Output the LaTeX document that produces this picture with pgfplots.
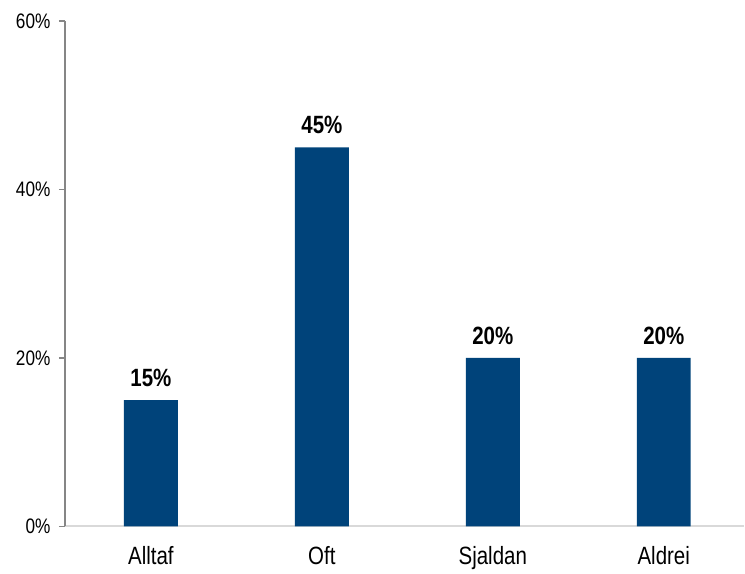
\documentclass[border=0pt]{standalone}
\usepackage{pgfplots}
\pgfplotsset{compat=1.18}
\usepackage{fontspec}
\setmainfont{Liberation Sans}[FakeStretch=0.82]
\definecolor{barblue}{RGB}{0,67,122}
\definecolor{axgray}{RGB}{134,134,134}
\definecolor{basegray}{RGB}{217,217,217}

\begin{document}
\begin{tikzpicture}
\begin{axis}[
    scale only axis,
    width=680pt, height=506pt,
    xmin=-0.503, xmax=3.47,
    ymin=0, ymax=60,
    axis x line=bottom,
    axis y line=left,
    x axis line style={draw=basegray, line width=1.8pt, -},
    y axis line style={draw=axgray, line width=1.4pt, -},
    xtick={0,1,2,3},
    xticklabels={Alltaf,Oft,Sjaldan,Aldrei},
    x tick style={draw=none},
    ytick={0,20,40,60},
    yticklabel={\pgfmathprintnumber{\tick}\%},
    y tick style={draw=axgray, line width=1.4pt},
    major tick length=6pt,
    tick align=outside,
    /pgf/number format/assume math mode=true,
    xticklabel style={font=\fontsize{25}{28}\selectfont, yshift=-11pt},
    yticklabel style={font=\fontsize{21}{24}\selectfont, xshift=-5pt},
    ybar,
    bar width=54pt,
    nodes near coords={\pgfmathprintnumber{\pgfplotspointmeta}\%},
    nodes near coords style={font=\bfseries\fontsize{25}{28}\selectfont, yshift=10pt},
]
% values
\addplot[fill=barblue, draw=none] coordinates {(0,15) (1,45) (2,20) (3,20)};
\end{axis}
% pad the page to the reference's 745x572 frame
\path ([shift={(-65pt,-44pt)}]current axis.south west) rectangle ([shift={(0pt,21pt)}]current axis.north east);
\end{tikzpicture}
\end{document}
